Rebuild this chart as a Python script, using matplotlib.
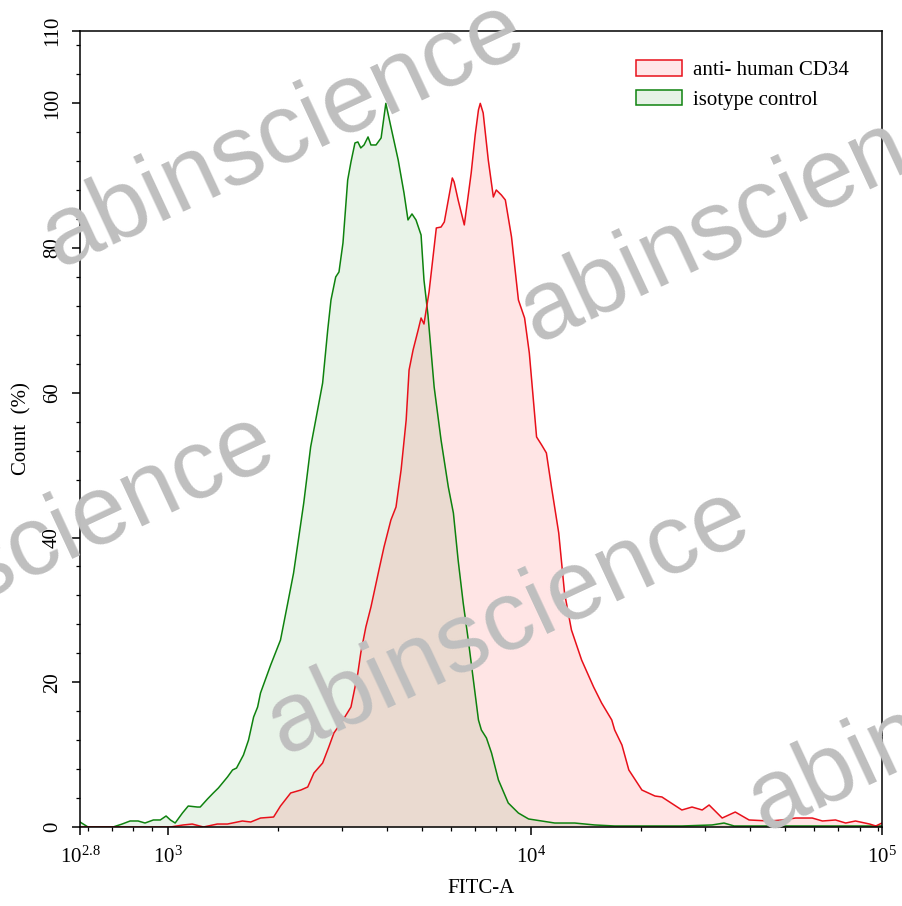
import matplotlib
matplotlib.use("Agg")
import matplotlib.pyplot as plt
import matplotlib.patches as mpatches
from matplotlib.ticker import FixedLocator, NullFormatter
import numpy as np

plt.rcParams['font.family'] = ['Liberation Serif', 'DejaVu Serif']

# FITC-A intensity in decades (log10) and count (% of max)
iso_log = [2.757, 2.779, 2.804, 2.848, 2.873, 2.895, 2.917, 2.936, 2.959, 2.978,
           2.994, 3.006, 3.019, 3.039, 3.055, 3.080, 3.088, 3.108, 3.124, 3.138,
           3.163, 3.177, 3.188, 3.207, 3.221, 3.235, 3.246, 3.254, 3.282, 3.309,
           3.329, 3.345, 3.373, 3.392, 3.406, 3.425, 3.439, 3.448, 3.461, 3.470,
           3.481, 3.494, 3.503, 3.514, 3.522, 3.530, 3.539, 3.550, 3.558, 3.572,
           3.586, 3.599, 3.613, 3.633, 3.649, 3.660, 3.671, 3.682, 3.696, 3.704,
           3.715, 3.732, 3.751, 3.771, 3.785, 3.798, 3.812, 3.826, 3.840, 3.854,
           3.862, 3.876, 3.890, 3.909, 3.936, 3.964, 3.992, 4.028, 4.064, 4.119,
           4.174, 4.229, 4.304, 4.414, 4.497, 4.530, 4.558, 4.635, 4.746, 4.856,
           4.965]
iso_cnt = [0.69, 0.0, 0.0, 0.0, 0.41, 0.83, 0.83, 0.55, 0.97, 0.97,
           1.52, 0.97, 0.55, 1.93, 2.90, 2.76, 2.76, 3.87, 4.70, 5.39,
           6.91, 7.88, 8.15, 9.95, 12.02, 15.20, 16.58, 18.52, 22.39, 25.84,
           30.96, 35.10, 44.78, 52.52, 56.25, 61.36, 68.68, 72.83, 76.01, 76.70,
           80.71, 89.41, 91.90, 94.53, 94.67, 93.84, 94.25, 95.36, 94.25, 94.25,
           95.22, 100.0, 96.74, 92.18, 87.62, 83.89, 84.72, 83.89, 81.81, 75.59,
           70.76, 60.81, 53.48, 46.99, 43.39, 36.90, 30.96, 25.84, 20.31, 14.79,
           13.41, 12.30, 10.23, 6.50, 3.32, 1.93, 1.11, 0.83, 0.55, 0.55,
           0.28, 0.14, 0.14, 0.14, 0.28, 0.55, 0.14, 0.14, 0.14, 0.14,
           0.14]

cd34_log = [2.757, 3.006, 3.041, 3.066, 3.097, 3.135, 3.163, 3.204, 3.227, 3.254,
            3.290, 3.309, 3.337, 3.365, 3.384, 3.401, 3.425, 3.442, 3.456, 3.481,
            3.503, 3.522, 3.530, 3.544, 3.558, 3.580, 3.594, 3.613, 3.627, 3.641,
            3.655, 3.663, 3.674, 3.688, 3.696, 3.704, 3.718, 3.738, 3.751, 3.760,
            3.771, 3.782, 3.787, 3.798, 3.815, 3.826, 3.834, 3.845, 3.854, 3.859,
            3.867, 3.881, 3.895, 3.903, 3.917, 3.928, 3.945, 3.964, 3.981, 3.994,
            4.014, 4.028, 4.041, 4.055, 4.075, 4.091, 4.110, 4.138, 4.171, 4.193,
            4.221, 4.229, 4.249, 4.268, 4.304, 4.340, 4.359, 4.414, 4.442, 4.470,
            4.489, 4.525, 4.561, 4.599, 4.655, 4.691, 4.727, 4.773, 4.801, 4.837,
            4.865, 4.892, 4.931, 4.948, 4.965]
cd34_cnt = [0.0, 0.0, 0.28, 0.41, 0.0, 0.41, 0.41, 0.83, 0.69, 1.24,
            1.38, 2.90, 4.70, 5.11, 5.53, 7.46, 8.84, 11.06, 12.99, 14.79,
            16.58, 21.28, 24.05, 27.64, 30.40, 35.52, 38.70, 42.43, 44.22, 49.34,
            56.25, 63.16, 65.92, 68.68, 70.34, 69.51, 73.94, 82.78, 82.91, 83.61,
            86.65, 89.69, 89.14, 86.65, 83.20, 87.34, 90.38, 95.63, 99.09, 100.0,
            98.67, 92.18, 87.06, 88.03, 87.34, 86.65, 81.54, 72.83, 70.34, 65.51,
            53.90, 52.79, 51.69, 46.99, 40.63, 32.34, 27.23, 23.08, 19.35, 17.14,
            14.79, 13.41, 11.33, 7.88, 5.11, 4.28, 4.15, 2.35, 2.76, 2.35,
            3.04, 1.24, 2.07, 0.97, 0.83, 0.97, 1.24, 1.24, 0.83, 0.97,
            0.55, 0.83, 0.41, 0.14, 0.55]

x_range_log = (2.757, 4.965)
edge_labels = ['$\\mathregular{10^{2.8}}$', '$\\mathregular{10^{3}}$',
               '$\\mathregular{10^{4}}$', '$\\mathregular{10^{5}}$']
series_names = ['anti- human CD34', 'isotype control']
watermark = 'abinscience'

iso_x = 10 ** np.array(iso_log)
cd34_x = 10 ** np.array(cd34_log)

fig = plt.figure(figsize=(9.02, 9.06), dpi=100)
ax = fig.add_axes([80/902, 1 - 827/906, 802/902, 796/906])

ax.fill_between(iso_x, iso_cnt, 0, color=(0, 0.5, 0), alpha=0.09, lw=0)
ax.fill_between(cd34_x, cd34_cnt, 0, color=(1, 0, 0), alpha=0.10, lw=0)
ax.plot(iso_x, iso_cnt, color='#0e820e', lw=1.1)
ax.plot(cd34_x, cd34_cnt, color='#e8101a', lw=1.1)

ax.set_xscale('log')
ax.set_xlim(10 ** x_range_log[0], 10 ** x_range_log[1])
ax.set_ylim(0, 110)

ax.xaxis.set_major_locator(FixedLocator([10 ** x_range_log[0], 1e3, 1e4, 10 ** x_range_log[1]]))
ax.set_xticklabels(edge_labels)
minors = [m * 10 ** d for d in (2, 3, 4) for m in range(2, 10)]
ax.xaxis.set_minor_locator(FixedLocator(minors))
ax.xaxis.set_minor_formatter(NullFormatter())

ax.set_yticks([0, 20, 40, 60, 80, 100, 110])
ax.set_yticks(np.arange(0, 110, 4), minor=True)
for lab in ax.get_yticklabels():
    lab.set_rotation(90)
    lab.set_va('center')

ax.tick_params(axis='both', which='major', length=6, width=1.1, labelsize=15, direction='out')
ax.tick_params(axis='both', which='minor', length=3, width=0.9, direction='out')
ax.tick_params(axis='x', which='major', pad=8)
ax.tick_params(axis='y', which='major', pad=7)
for s in ax.spines.values():
    s.set_linewidth(1.1)

ax.set_xlabel('FITC-A', fontsize=15, labelpad=8)
ax.set_ylabel('Count  (%)', fontsize=15, labelpad=8)

h1 = mpatches.Patch(facecolor=(1, 0.9, 0.91), edgecolor='#e8101a', lw=1.1)
h2 = mpatches.Patch(facecolor=(0.9, 0.95, 0.9), edgecolor='#0e820e', lw=1.1)
ax.legend([h1, h2], series_names, loc='upper left', bbox_to_anchor=(0.693, 0.963),
          frameon=False, fontsize=15, borderpad=0, borderaxespad=0,
          handlelength=2.2, handleheight=0.75, handletextpad=0.55, labelspacing=0.45)

# tiled watermark, baseline start points in pixels from top-left
wm_px = [(58, 268), (536, 343), (-192, 680), (283, 755), (764, 832)]
for px, py in wm_px:
    fig.text(px/902, 1 - py/906, watermark, fontsize=71, color='#bfbfbf',
             family='Liberation Sans', rotation=25, rotation_mode='anchor',
             ha='left', va='baseline', zorder=10)

fig.savefig('out.png', dpi=100)
